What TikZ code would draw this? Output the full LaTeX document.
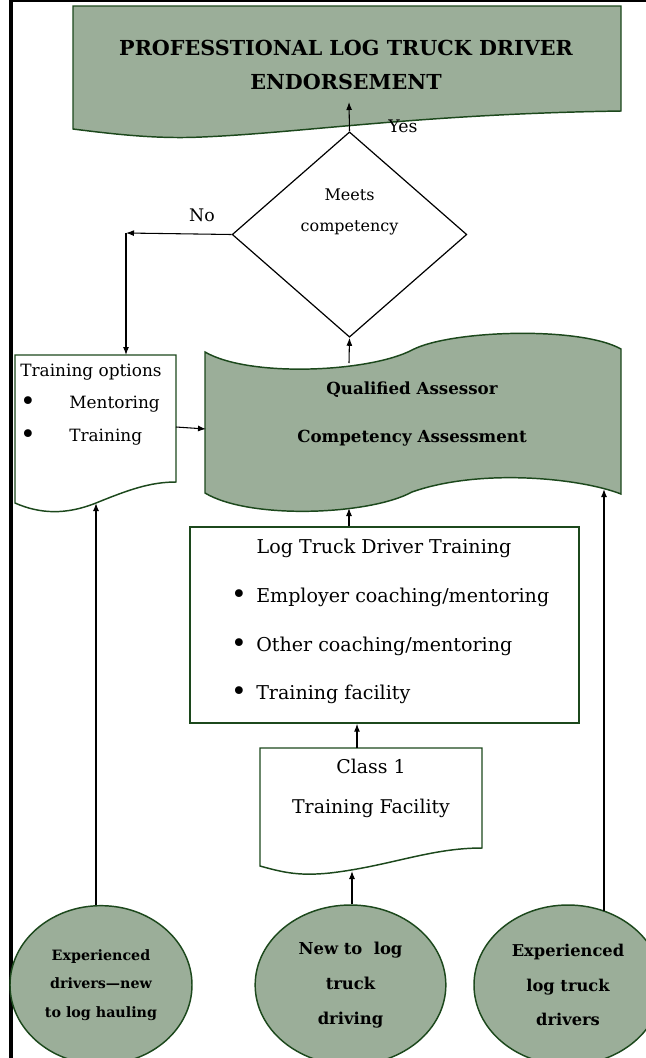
\documentclass[tikz,border=0pt]{standalone}
\usepackage{fontspec}
\setmainfont{DejaVu Serif}
\usetikzlibrary{arrows.meta, shapes.geometric}
\definecolor{logsage}{RGB}{155,174,153}
\definecolor{logpine}{RGB}{28,72,28}
\tikzset{
	flow/.style={-{Latex[length=6pt,width=4.5pt]}, line width=0.8pt},
	longflow/.style={flow, line width=1pt},
	greenshape/.style={draw=logpine, line width=1.1pt},
	dot/.style={font=\fontsize{20}{20}\selectfont}
}

\begin{document}
\begin{tikzpicture}[x=0.75pt, y=-0.75pt]
		\useasboundingbox (0,0) rectangle (646,1058);
		\draw[line width=3pt] (11,0) -- (11,1058);
		\draw[line width=1.8pt] (9,1) -- (646,1);

		\draw[greenshape, fill=logsage] (73,6) -- (621,6) -- (621,111)
			.. controls (420,114) and (300,133) .. (202,137)
			.. controls (160,139) and (120,135) .. (73,129) -- cycle;
		\draw[greenshape, fill=white] (15,355) -- (176,355) -- (176,482)
			.. controls (150,482) and (128,490) .. (96,503)
			.. controls (66,515) and (40,514) .. (15,503) -- cycle;
		\draw[greenshape, fill=logsage] (205,352)
			.. controls (250,378) and (370,372) .. (412,350)
			.. controls (450,330) and (580,326) .. (621,349) -- (621,494)
			.. controls (580,478) and (480,468) .. (412,492)
			.. controls (370,515) and (250,520) .. (205,493) -- cycle;
		\draw[greenshape, fill=white] (260,748) -- (482,748) -- (482,848)
			.. controls (430,848) and (390,866) .. (330,873)
			.. controls (300,876) and (285,873) .. (260,866) -- cycle;

		\begin{scope}[every node/.style={inner sep=0pt}]
		\node[font=\bfseries\fontsize{15.5}{25.5}\selectfont, align=center] (endorse) at (346,65) {PROFESSTIONAL LOG TRUCK DRIVER\\ENDORSEMENT};
		\node[font=\fontsize{13}{15}\selectfont] (yes) at (403,126) {Yes};

		\node[diamond, draw, line width=0.9pt, minimum width=176pt, minimum height=154pt] (meets) at (349.5,234.5) {};
		\node[font=\fontsize{12}{23}\selectfont, align=center] (meets-txt) at (349.5,212) {Meets\\competency};
		\node[font=\fontsize{13}{15}\selectfont] (no) at (202,215) {No};

		\node[font=\fontsize{12.7}{15}\selectfont] (opts) at (91,372) {Training options};
		\node[dot] (opts-d1) at (28,404) {•};
		\node[dot] (opts-d2) at (28,437) {•};
		\node[font=\fontsize{12.7}{15}\selectfont, anchor=west] (opts-i1) at (69,404) {Mentoring};
		\node[font=\fontsize{12.7}{15}\selectfont, anchor=west] (opts-i2) at (69,437) {Training};

		\node[font=\bfseries\fontsize{12.5}{15}\selectfont] (qa-1) at (412,390) {Qualified Assessor};
		\node[font=\bfseries\fontsize{12.5}{15}\selectfont] (qa-2) at (412,438) {Competency Assessment};

		\node[greenshape, minimum width=291.75pt, minimum height=147pt] (ltdt) at (384.5,625) {};
		\node[font=\fontsize{14.3}{17}\selectfont] (ltdt-head) at (384,548) {Log Truck Driver Training};
		\node[dot] (ltdt-d1) at (239,597) {•};
		\node[dot] (ltdt-d2) at (239,646) {•};
		\node[dot] (ltdt-d3) at (239,694) {•};
		\node[font=\fontsize{14.3}{17}\selectfont, anchor=west] (ltdt-i1) at (256,597) {Employer coaching/mentoring};
		\node[font=\fontsize{14.3}{17}\selectfont, anchor=west] (ltdt-i2) at (256,646) {Other coaching/mentoring};
		\node[font=\fontsize{14.3}{17}\selectfont, anchor=west] (ltdt-i3) at (256,694) {Training facility};

		\node[font=\fontsize{14.2}{30}\selectfont, align=center] (cls) at (371,788) {Class 1\\Training Facility};

		\node[ellipse, greenshape, fill=logsage, minimum width=136.5pt, minimum height=119pt, align=center, font=\bfseries\fontsize{10.7}{21.4}\selectfont] (veteran) at (101,985) {Experienced\\drivers—new\\to log hauling};
		\node[ellipse, greenshape, fill=logsage, minimum width=143pt, minimum height=120pt, align=center, font=\bfseries\fontsize{12.3}{26}\selectfont] (newbie) at (350.5,985) {New to~ log\\truck\\driving};
		\node[ellipse, greenshape, fill=logsage, minimum width=141pt, minimum height=120pt, align=center, font=\bfseries\fontsize{12.2}{26}\selectfont] (logger) at (568,985) {Experienced\\log truck\\drivers};
		\end{scope}

		\coordinate (endorse-b) at (349,102);
		\coordinate (no-turn) at (126,233);
		\coordinate (opts-t) at (126,355);
		\coordinate (opts-r) at (176,427);
		\coordinate (opts-b) at (96,503);
		\coordinate (qa-l) at (206,429);
		\coordinate (qa-t) at (349,363);
		\coordinate (qa-b) at (349,508);
		\coordinate (qa-br) at (604,489);
		\coordinate (cls-t) at (357,748);
		\coordinate (cls-b) at (352,871);
		\coordinate (logger-t) at (604,911);

		\draw[flow] (meets.north) -- (endorse-b);
		\draw[flow] (meets.west) -- (no-turn);
		\draw[flow] (no-turn) -- (opts-t);
		\draw[flow] (opts-r) -- (qa-l);
		\draw[flow] (qa-t) -- (meets.south);
		\draw[flow] (ltdt.north -| qa-b) -- (qa-b);
		\draw[flow] (cls-t) -- (ltdt.south -| cls-t);
		\draw[flow] (newbie.north -| cls-b) -- (cls-b);
		\draw[longflow] (veteran.north -| opts-b) -- (opts-b);
		\draw[longflow] (logger-t) -- (qa-br);
\end{tikzpicture}
\end{document}
